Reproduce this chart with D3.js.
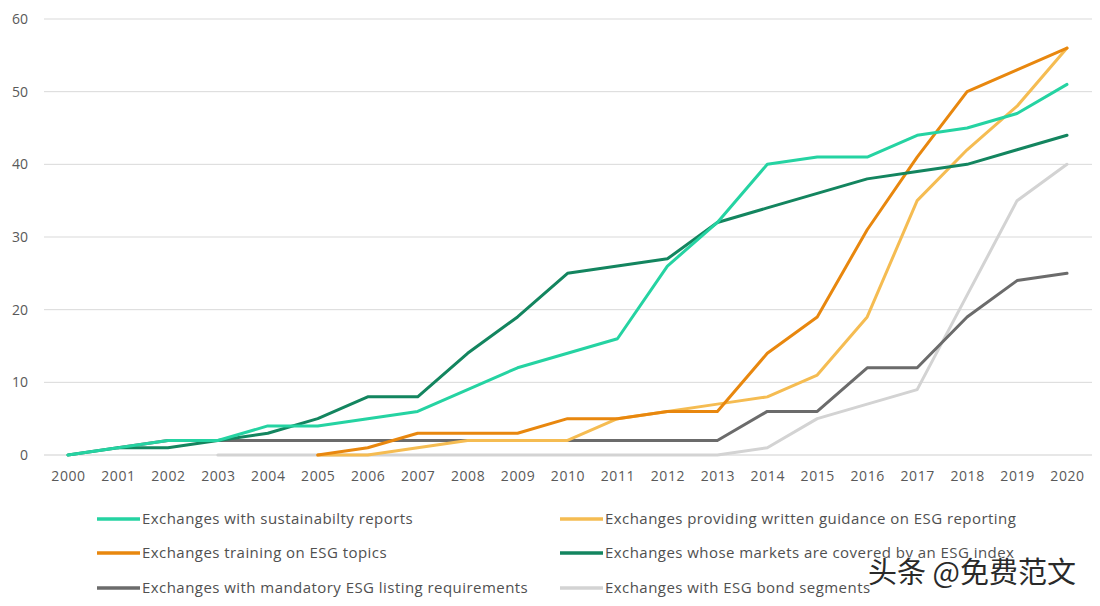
<!DOCTYPE html>
<html><head><meta charset="utf-8">
<script src="https://cdn.jsdelivr.net/npm/d3@7"></script>
<style>body{margin:0;background:#fff}svg{display:block}</style>
</head><body>
<svg id="c" width="1100" height="606"></svg>
<script>
const years = d3.range(2000, 2021).map(String);
const yTicks = [0,10,20,30,40,50,60];
const sustainability = [0,1,2,2,4,4,5,6,9,12,14,16,26,32,40,41,41,44,45,47,51];
const guidance = [null,null,null,null,null,0,0,1,2,2,2,5,6,7,8,11,19,35,42,48,56];
const training = [null,null,null,null,null,0,1,3,3,3,5,5,6,6,14,19,31,41,50,53,56];
const esgIndex = [0,1,1,2,3,5,8,8,14,19,25,26,27,32,34,36,38,39,40,42,44];
const mandatory = [null,1,2,2,2,2,2,2,2,2,2,2,2,2,6,6,12,12,19,24,25];
const bond = [null,null,null,0,0,0,0,0,0,0,0,0,0,0,1,5,7,9,22,35,40];
const seriesNames = [
  "Exchanges with sustainabilty reports",
  "Exchanges providing written guidance on ESG reporting",
  "Exchanges training on ESG topics",
  "Exchanges whose markets are covered by an ESG index",
  "Exchanges with mandatory ESG listing requirements",
  "Exchanges with ESG bond segments"
];
const seriesValues = [sustainability, guidance, training, esgIndex, mandatory, bond];
const colors = ["#25D3A2","#F5BC52","#E8870E","#13855F","#6B6B6B","#D3D3D3"];
const drawOrder = [5,4,1,2,3,0];

const svg = d3.select("#c");
const x = d3.scalePoint().domain(years).range([68,1067]);
const y = d3.scaleLinear().domain([0,60]).range([455,19]);
const font = "'Open Sans', 'Noto Sans', sans-serif";

// grid
svg.append("g").selectAll("line").data(yTicks).join("line")
  .attr("x1",44).attr("x2",1092)
  .attr("y1",d=>y(d)).attr("y2",d=>y(d))
  .attr("stroke",d=>d===0?"#cfcfcf":"#d9d9d9").attr("stroke-width",1);

const yAxis = svg.append("g").attr("transform","translate(28,0)")
  .call(d3.axisLeft(y).tickValues(yTicks).tickSize(0).tickPadding(0));
yAxis.select(".domain").remove();
yAxis.selectAll("text").attr("font-family",font).attr("font-size",14).attr("fill","#595959");

const xAxis = svg.append("g").attr("transform","translate(0,471)")
  .call(d3.axisBottom(x).tickSize(0).tickPadding(0));
xAxis.select(".domain").remove();
xAxis.selectAll("text").attr("font-family",font).attr("font-size",14).attr("letter-spacing",0.6).attr("fill","#595959");

const line = d3.line().defined(d=>d.v!==null).x(d=>x(d.yr)).y(d=>y(d.v));
drawOrder.forEach(i=>{
  const data = years.map((yr,j)=>({yr, v: seriesValues[i][j]}));
  svg.append("path").datum(data).attr("d",line)
    .attr("fill","none").attr("stroke",colors[i]).attr("stroke-width",3)
    .attr("stroke-linejoin","round").attr("stroke-linecap","round");
});

// legend
const legX = [97,560], legY = [519,553,588];
seriesNames.forEach((n,i)=>{
  const lx = legX[i%2], ly = legY[Math.floor(i/2)];
  svg.append("line").attr("x1",lx).attr("x2",lx+43).attr("y1",ly).attr("y2",ly)
    .attr("stroke",colors[i]).attr("stroke-width",3.5);
  svg.append("text").attr("x",lx+45).attr("y",ly+5).text(n)
    .attr("font-family",font).attr("font-size",15).attr("letter-spacing",0.45).attr("fill","#505050");
});

// watermark
svg.append("text").attr("x",868).attr("y",583).text("头条 @免费范文")
  .attr("font-family","'Noto Sans CJK SC', sans-serif").attr("font-size",29)
  .attr("fill","#2a2a2a").attr("stroke","#fff").attr("stroke-width",0.8).attr("paint-order","stroke");
</script>
</body></html>
